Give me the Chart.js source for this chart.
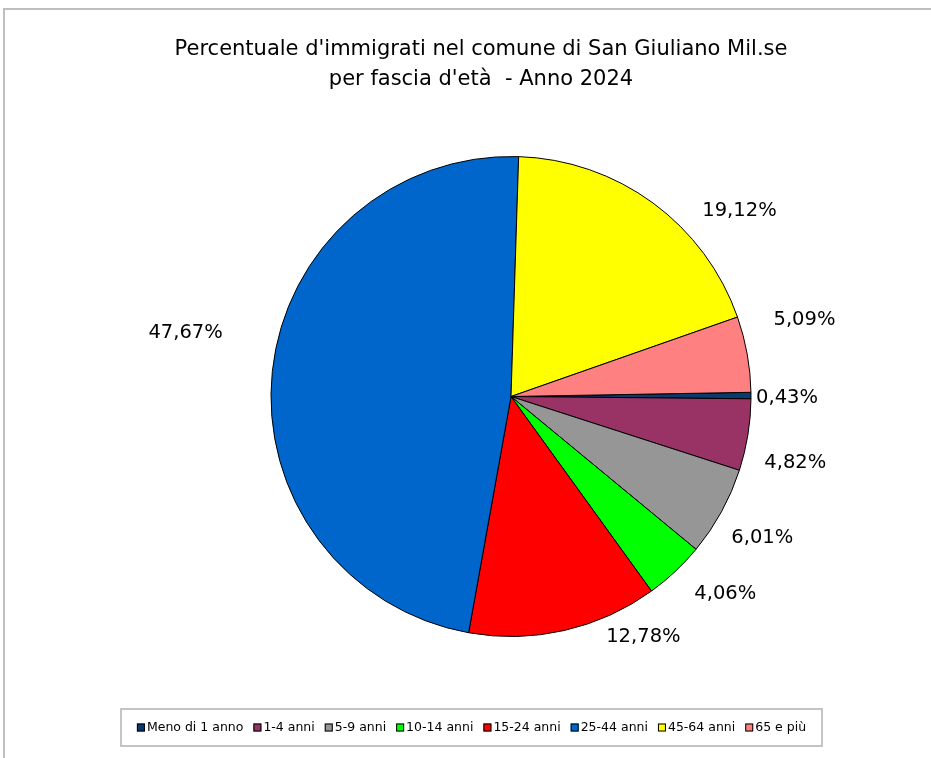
<!DOCTYPE html>
<html>
<head>
<meta charset="utf-8">
<script src="https://cdn.jsdelivr.net/npm/chart.js@4.4.1/dist/chart.umd.min.js"></script>
<style>
    html, body { margin: 0; padding: 0; background: #fff; }
    #wrap { width: 931px; height: 758px; }
</style>
</head>
<body>
<div id="wrap"><canvas id="pie" width="931" height="758"></canvas></div>
<script>
    // dati: immigrati per fascia d'età, San Giuliano Mil.se 2024 (%)
    var categories = ['Meno di 1 anno', '1-4 anni', '5-9 anni', '10-14 anni', '15-24 anni', '25-44 anni', '45-64 anni', '65 e più'];
    var percentages = [0.43, 4.82, 6.01, 4.06, 12.78, 47.67, 19.12, 5.09];
    var titleLines = ["Percentuale d'immigrati nel comune di San Giuliano Mil.se", "per fascia d'età  - Anno 2024"];

    var FONT = '"DejaVu Sans", Verdana, sans-serif';

    function pctText(v) {
        return v.toFixed(2).replace('.', ',') + '%';
    }

    // cornice, titolo, etichette e legenda disegnati sul canvas
    var excelLook = {
        id: 'excelLook',
        beforeDraw: function (chart, args, opts) {
            var ctx = chart.ctx;
            ctx.save();
            ctx.fillStyle = '#fff';
            ctx.fillRect(0, 0, chart.width, chart.height);

            ctx.strokeStyle = '#BEBEBE';
            ctx.lineWidth = 2;
            ctx.beginPath();
            ctx.moveTo(4, chart.height);
            ctx.lineTo(4, 9);
            ctx.lineTo(chart.width, 9);
            ctx.stroke();

            ctx.fillStyle = '#000';
            ctx.font = '21px ' + FONT;
            ctx.textAlign = 'center';
            ctx.textBaseline = 'middle';
            ctx.fillText(titleLines[0], 481, 50);
            ctx.fillText(titleLines[1], 481, 80);
            ctx.restore();
        },
        afterDraw: function (chart, args, opts) {
            var ctx = chart.ctx;
            var meta = chart.getDatasetMeta(0);
            var colors = chart.data.datasets[0].backgroundColor;

            ctx.save();
            ctx.fillStyle = '#000';
            ctx.font = '19.5px ' + FONT;
            ctx.textAlign = 'center';
            ctx.textBaseline = 'middle';
            meta.data.forEach(function (arc, i) {
                var p = arc.getProps(['x', 'y', 'startAngle', 'endAngle', 'outerRadius'], true);
                var mid = (p.startAngle + p.endAngle) / 2;
                var d = p.outerRadius + 50;
                var shift = opts.shift[i] || [0, 0];
                ctx.fillText(pctText(percentages[i]), p.x + Math.cos(mid) * d + shift[0], p.y + Math.sin(mid) * d + shift[1]);
            });

            // legenda
            var box = {left: 121, top: 709, right: 822, bottom: 746};
            ctx.fillStyle = '#fff';
            ctx.fillRect(box.left, box.top, box.right - box.left, box.bottom - box.top);
            ctx.strokeStyle = '#C4C4C4';
            ctx.lineWidth = 2;
            ctx.strokeRect(box.left, box.top, box.right - box.left, box.bottom - box.top);

            ctx.font = '12.5px ' + FONT;
            ctx.textAlign = 'left';
            var gap = 10, sq = 8, total = 0;
            var widths = chart.data.labels.map(function (t) {
                var w = ctx.measureText(t).width;
                total += sq + 2 + w;
                return w;
            });
            total += gap * (widths.length - 1);
            var x = (box.left + box.right) / 2 - total / 2;
            var cy = (box.top + box.bottom) / 2;
            chart.data.labels.forEach(function (t, i) {
                ctx.fillStyle = colors[i];
                ctx.fillRect(x, cy - sq / 2, sq, sq);
                ctx.strokeStyle = '#000';
                ctx.lineWidth = 1;
                ctx.strokeRect(x + 0.5, cy - sq / 2 + 0.5, sq - 1, sq - 1);
                ctx.fillStyle = '#000';
                ctx.fillText(t, x + sq + 2, cy);
                x += sq + 2 + widths[i] + gap;
            });
            ctx.restore();
        }
    };

    new Chart(document.getElementById('pie'), {
        type: 'pie',
        data: {
            labels: categories,
            datasets: [{
                data: percentages,
                backgroundColor: ['#0A3A6E', '#993366', '#969696', '#00FF00', '#FF0000', '#0066CC', '#FFFF00', '#FF8080'],
                borderColor: '#000',
                borderWidth: 1
            }]
        },
        options: {
            responsive: false,
            animation: false,
            rotation: 89,
            radius: 240,
            layout: {
                padding: {left: 251, right: 160, top: 136.5, bottom: 101.5}
            },
            plugins: {
                legend: {display: false},
                title: {display: false},
                tooltip: {enabled: false},
                excelLook: {
                    shift: [[-14, 3], [-2, 20], [-3, 2], [16, -14], [68, -42], [-37, -33], [57, 48], [8, -25]]
                }
            }
        },
        plugins: [excelLook]
    });
</script>
</body>
</html>
